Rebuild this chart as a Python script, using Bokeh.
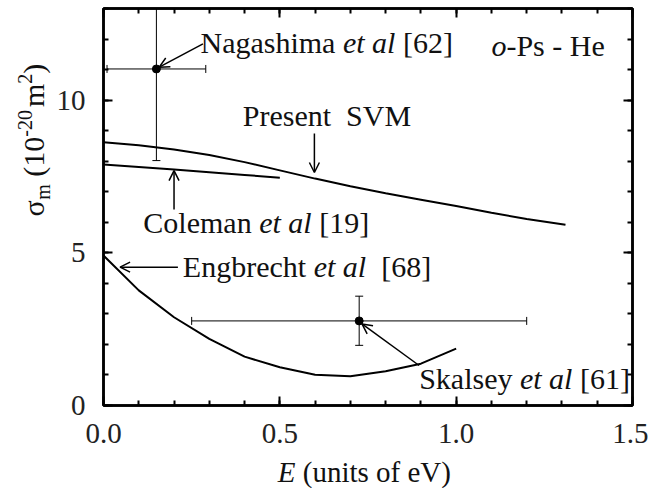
import math
from bokeh.plotting import figure
from bokeh.layouts import row, column
from bokeh.models import (Range1d, LinearAxis, SingleIntervalTicker, Label, Arrow,
                          OpenHead, Whisker, TeeHead, ColumnDataSource, PrintfTickFormatter,
                          CustomJSTickFormatter)
from bokeh.embed import file_html
from bokeh.resources import INLINE

# ---------------- data ----------------
svm_E = [0.0, 0.1, 0.2, 0.3, 0.4, 0.5, 0.6, 0.7, 0.8, 0.9, 1.0, 1.1, 1.2, 1.31]
svm_sigma = [8.62, 8.52, 8.38, 8.20, 7.97, 7.70, 7.43, 7.18, 6.95, 6.74, 6.53, 6.31, 6.11, 5.92]

coleman_E = [0.0, 0.1, 0.2, 0.3, 0.4, 0.5]
coleman_sigma = [7.89, 7.81, 7.73, 7.64, 7.55, 7.46]

engbrecht_E = [0.0, 0.1, 0.2, 0.3, 0.4, 0.5, 0.6, 0.7, 0.8, 0.9, 1.0]
engbrecht_sigma = [4.91, 3.77, 2.89, 2.18, 1.60, 1.25, 1.01, 0.96, 1.12, 1.37, 1.86]

exp_name = ["Nagashima", "Skalsey"]
exp_E = [0.15, 0.725]
exp_sigma = [11.02, 2.77]
exp_E_lo = [0.01, 0.25]
exp_E_hi = [0.29, 1.20]
exp_sigma_lo = [8.02, 1.97]
exp_sigma_hi = [14.0, 3.58]

x_ticks_interval = 0.5
y_ticks_interval = 5

# annotation texts: list of (segment, italic)
txt_nagashima = [("Nagashima ", False), ("et al", True), (" [62]", False)]
txt_system = [("o", True), ("-Ps - He", False)]
txt_svm = [("Present  SVM", False)]
txt_coleman = [("Coleman ", False), ("et al", True), (" [19]", False)]
txt_engbrecht = [("Engbrecht ", False), ("et al", True), ("  [68]", False)]
txt_skalsey = [("Skalsey ", False), ("et al", True), (" [61]", False)]
txt_xlabel = [("E", True), (" (units of eV)", False)]
# y label: (text, role) role: main / sub / sup
txt_ylabel = [("σ", "main"), ("m", "sub"), (" (10", "main"), ("-20", "sup"),
              ("m", "main"), ("2", "sup"), (")", "main")]

FONT = "Liberation Serif"
FS_TICK = 29
FS = 30
FS_XLAB = 29
FS_SMALL = 20
NBSP = "\u00a0"
BASE_CORR = 0.35  # baseline correction (fraction of font size, upward)

# Times metrics (per 1000 em) for layout of mixed-style runs
ROMAN = {' ': 250, 'N': 722, 'a': 444, 'g': 500, 's': 389, 'h': 500, 'i': 278, 'm': 778,
         'e': 444, 't': 278, 'l': 278, '[': 333, ']': 333, 'P': 556, 'r': 333, 'n': 500,
         'S': 556, 'V': 722, 'M': 889, 'C': 667, 'o': 500, 'E': 611, 'b': 500, 'c': 444,
         'k': 500, 'y': 500, '(': 333, ')': 333, 'u': 500, 'f': 333, '-': 333, 'H': 722,
         'σ': 560}
ITALIC = {' ': 250, 'e': 444, 't': 278, 'a': 500, 'l': 278, 'o': 500, 'E': 611}


def text_width(s, italic, size):
    table = ITALIC if italic else ROMAN
    w = 0
    for ch in s:
        if ch.isdigit():
            w += 500
        else:
            w += table.get(ch, ROMAN.get(ch, 500))
    return w * size / 1000.0


# geometry (pixels)
TOTAL_W, TOTAL_H = 648, 488
LEFT_W = 53
MAIN_W = TOTAL_W - LEFT_W
MAIN_H = 455
BOTTOM_H = TOTAL_H - MAIN_H

p = figure(width=MAIN_W, height=MAIN_H, x_range=Range1d(0, 1.5), y_range=Range1d(0, 13),
           output_backend="svg", toolbar_location=None,
           min_border_left=100 - LEFT_W, min_border_right=16, min_border_top=8,
           min_border_bottom=MAIN_H - 405)
p.grid.visible = False
p.outline_line_color = "black"
p.outline_line_width = 2.5
p.background_fill_color = "white"
p.border_fill_color = "white"

xt = SingleIntervalTicker(interval=x_ticks_interval, num_minor_ticks=5)
yt = SingleIntervalTicker(interval=y_ticks_interval, num_minor_ticks=5)


def style_axis(ax, labels=True):
    ax.axis_line_color = "black"
    ax.axis_line_width = 2.5
    ax.major_tick_in = 9
    ax.major_tick_out = 0
    ax.minor_tick_in = 5
    ax.minor_tick_out = 0
    ax.major_tick_line_width = 2
    ax.minor_tick_line_width = 2
    ax.major_tick_line_color = "black"
    ax.minor_tick_line_color = "black"
    if labels:
        ax.major_label_text_font = FONT
        ax.major_label_text_font_size = f"{FS_TICK}px"
        ax.major_label_text_color = "#222222"
    else:
        ax.formatter = CustomJSTickFormatter(code="return ''")
        ax.major_label_standoff = 0


p.xaxis[0].ticker = xt
p.xaxis[0].formatter = PrintfTickFormatter(format="%.1f")
p.yaxis[0].ticker = yt
p.yaxis[0].formatter = PrintfTickFormatter(format="%d")
style_axis(p.xaxis[0])
style_axis(p.yaxis[0])
p.xaxis[0].major_label_standoff = 18
p.yaxis[0].major_label_standoff = 18

top_ax = LinearAxis(ticker=SingleIntervalTicker(interval=x_ticks_interval, num_minor_ticks=5))
style_axis(top_ax, labels=False)
p.add_layout(top_ax, "above")
right_ax = LinearAxis(ticker=SingleIntervalTicker(interval=y_ticks_interval, num_minor_ticks=5))
style_axis(right_ax, labels=False)
p.add_layout(right_ax, "right")

# ---------------- curves ----------------
p.line(svm_E, svm_sigma, line_color="black", line_width=2)
p.line(coleman_E, coleman_sigma, line_color="black", line_width=2)
p.line(engbrecht_E, engbrecht_sigma, line_color="black", line_width=2)

# ---------------- experimental points ----------------
src = ColumnDataSource(dict(E=exp_E, sigma=exp_sigma, E_lo=exp_E_lo, E_hi=exp_E_hi,
                            s_lo=exp_sigma_lo, s_hi=exp_sigma_hi))
p.add_layout(Whisker(source=src, base="sigma", lower="E_lo", upper="E_hi", dimension="width",
                     line_width=1, line_color="black",
                     lower_head=TeeHead(size=8, line_width=1), upper_head=TeeHead(size=8, line_width=1)))
p.add_layout(Whisker(source=src, base="E", lower="s_lo", upper="s_hi", dimension="height",
                     line_width=1, line_color="black",
                     lower_head=TeeHead(size=8, line_width=1), upper_head=TeeHead(size=8, line_width=1)))
p.scatter("E", "sigma", source=src, size=8, color="black")


# ---------------- annotations ----------------
def put_text(fig, segs, x, y, size=FS):
    off = 0.0
    for s, it in segs:
        lab = Label(x=x, y=y, x_offset=off, y_offset=BASE_CORR * size,
                    text=s.replace(" ", NBSP), text_font=FONT,
                    text_font_size=f"{size}px",
                    text_font_style="italic" if it else "normal", text_color="#111111",
                    text_baseline="alphabetic", text_align="left")
        fig.add_layout(lab)
        off += text_width(s, it, size)


put_text(p, txt_nagashima, 0.275, 11.53)
put_text(p, txt_system, 1.10, 11.46)
put_text(p, txt_svm, 0.395, 9.14)
put_text(p, txt_coleman, 0.113, 5.66)
put_text(p, txt_engbrecht, 0.225, 4.20)
put_text(p, txt_skalsey, 0.895, 0.545)


def arrow(x0, y0, x1, y1):
    p.add_layout(Arrow(x_start=x0, y_start=y0, x_end=x1, y_end=y1, line_width=1.5,
                       line_color="black", end=OpenHead(size=10, line_width=1.5, line_color="black")))


arrow(0.282, 11.84, 0.158, 11.08)
arrow(0.598, 8.91, 0.598, 7.63)
arrow(0.200, 6.42, 0.200, 7.69)
arrow(0.211, 4.53, 0.047, 4.53)
arrow(0.895, 1.31, 0.733, 2.67)


def strip(w, h):
    f = figure(width=w, height=h, x_range=Range1d(0, w), y_range=Range1d(0, h),
               output_backend="svg", toolbar_location=None, x_axis_type=None, y_axis_type=None,
               min_border=0, min_border_left=0, min_border_right=0, min_border_top=0,
               min_border_bottom=0)
    f.grid.visible = False
    f.outline_line_color = None
    f.background_fill_color = "white"
    f.border_fill_color = "white"
    return f


# left strip: rotated y-axis label (pixel coordinates, y upward)
left = strip(LEFT_W, TOTAL_H)
base_x = 43
start_y = TOTAL_H - 216
gaps = {"m": 3}
off = 0.0
for s, role in txt_ylabel:
    size = FS if role == "main" else FS_SMALL
    dx = {"main": 0, "sub": 6, "sup": -12}[role]
    if role == "main" and s == "m":
        off += gaps["m"]
    left.add_layout(Label(x=base_x + dx, y=start_y + off, x_offset=-BASE_CORR * size,
                          text=s.replace(" ", NBSP),
                          text_font=FONT, text_font_size=f"{size}px", angle=90, angle_units="deg",
                          text_baseline="alphabetic", text_align="left", text_color="#111111"))
    off += text_width(s, False, size)

# bottom strip: x-axis label (visual baseline at picture y ~481)
bottom = strip(MAIN_W, BOTTOM_H)
put_text(bottom, txt_xlabel, 249 - LEFT_W, TOTAL_H - 481.5, size=FS_XLAB)

layout = row(left, column(p, bottom))
open("out.html", "w").write(file_html(layout, INLINE))
